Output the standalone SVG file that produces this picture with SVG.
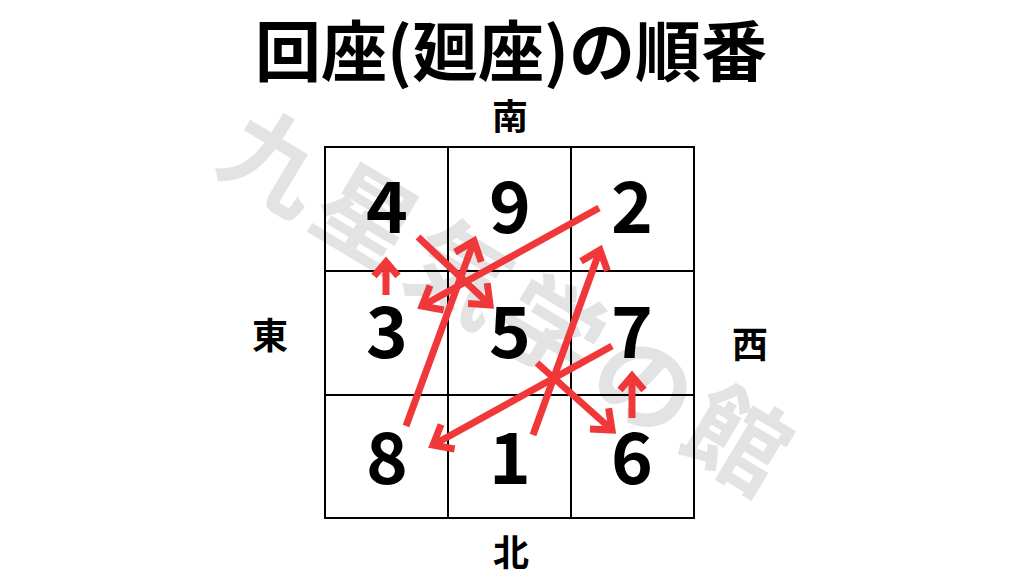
<svg xmlns="http://www.w3.org/2000/svg" width="1024" height="576" viewBox="0 0 1024 576">
<style>
.t{font-family:"Noto Sans CJK JP","Noto Sans",sans-serif;font-weight:700;fill:#000;text-anchor:middle}
.num{font-size:71px}
.dir{font-size:36px}
.grid{stroke:#000;stroke-width:2;fill:none}
.arr{stroke:#f0383a;stroke-width:7;fill:none;stroke-linecap:butt}
.wm{font-family:"Noto Sans CJK JP",sans-serif;font-weight:700;font-size:100px;fill:#e3e3e3;text-anchor:middle;letter-spacing:8px}
</style>
<defs>
<marker id="ah" markerUnits="userSpaceOnUse" viewBox="-20 -20 40 40" markerWidth="40" markerHeight="40" refX="0" refY="0" orient="auto" overflow="visible">
<path d="M-17,-14 L0,0 L-17,14" stroke="#f0383a" stroke-width="7" fill="none" stroke-linejoin="miter"/>
</marker>
<marker id="ahs" markerUnits="userSpaceOnUse" viewBox="-20 -20 40 40" markerWidth="40" markerHeight="40" refX="0" refY="0" orient="auto" overflow="visible">
<path d="M-14,-12 L0,0 L-14,12" stroke="#f0383a" stroke-width="7" fill="none" stroke-linejoin="miter"/>
</marker>
</defs>
<rect width="1024" height="576" fill="#fff"/>
<text class="wm" x="510" y="340" transform="rotate(31 510 302)">九星気学の館</text>
<text class="t" x="511" y="76" font-size="66">回座(廻座)の順番</text>
<g id="grid">
<rect class="grid" x="325" y="147" width="369" height="371"/>
<line class="grid" x1="448" y1="147" x2="448" y2="518"/>
<line class="grid" x1="571" y1="147" x2="571" y2="518"/>
<line class="grid" x1="325" y1="271" x2="694" y2="271"/>
<line class="grid" x1="325" y1="395" x2="694" y2="395"/>
</g>
<g id="dirs">
<text id="south" class="t dir" x="510" y="130">南</text>
<text id="east" class="t dir" x="270" y="349">東</text>
<text id="west" class="t dir" x="750" y="358" font-size="32">西</text>
<text id="north" class="t dir" x="511" y="566">北</text>
</g>
<g id="n4"><text class="t num" x="387" y="233">4</text></g>
<g id="n9"><text class="t num" x="510" y="233">9</text></g>
<g id="n2"><text class="t num" x="632" y="233">2</text></g>
<g id="n3"><text class="t num" x="387" y="358">3</text></g>
<g id="n5"><text class="t num" x="510" y="358">5</text></g>
<g id="n7"><text class="t num" x="632" y="358">7</text></g>
<g id="n8"><text class="t num" x="387" y="484">8</text></g>
<g id="n1"><text class="t num" x="510" y="484">1</text></g>
<g id="n6"><text class="t num" x="632" y="484">6</text></g>
<g id="connectors">
<line class="arr" x1="533" y1="435" x2="600" y2="250" marker-end="url(#ah)"/>
<line class="arr" x1="599" y1="208" x2="422" y2="306" marker-end="url(#ah)"/>
<line class="arr" x1="386" y1="295" x2="386" y2="262" marker-end="url(#ahs)"/>
<line class="arr" x1="418" y1="237" x2="490" y2="305" marker-end="url(#ah)"/>
<line class="arr" x1="537" y1="363" x2="612" y2="430" marker-end="url(#ah)"/>
<line class="arr" x1="632" y1="418" x2="632" y2="376" marker-end="url(#ahs)"/>
<line class="arr" x1="612" y1="346" x2="433" y2="445" marker-end="url(#ah)"/>
<line class="arr" x1="406" y1="426" x2="474" y2="241" marker-end="url(#ah)"/>
</g>
</svg>
